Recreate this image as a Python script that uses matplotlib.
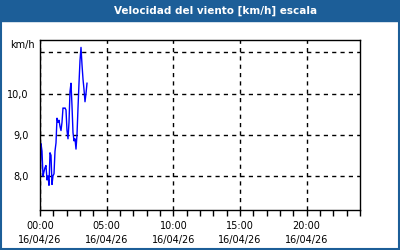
import matplotlib
matplotlib.use("Agg")
import matplotlib.pyplot as plt
from matplotlib.patches import Rectangle

# wind speed readings, km/h, every 4.5 minutes from 00:00
speed = [7.75, 8.78, 8.6, 7.99, 8.1, 8.2, 8.25, 7.9, 8.0, 7.77, 8.56, 8.5,
         7.79, 8.0, 8.05, 8.6, 8.8, 9.4, 9.3, 9.35, 9.2, 9.1, 9.3, 9.65,
         9.64, 9.65, 9.6, 9.1, 8.9, 9.3, 10.05, 10.25, 9.7, 9.05, 8.85, 8.9,
         8.65, 9.0, 9.65, 10.25, 10.8, 11.12, 10.7, 10.35, 10.1, 9.8, 10.0, 10.25]
step_h = 4.5 / 60
hours = [i * step_h for i in range(len(speed))]

xticks = [0, 5, 10, 15, 20]
xlabels = ["00:00\n16/04/26", "05:00\n16/04/26", "10:00\n16/04/26",
           "15:00\n16/04/26", "20:00\n16/04/26"]
yticks = [8, 9, 10]
ylabels = ["8,0", "9,0", "10,0"]

blue = "#1c5e98"
plt.rcParams["font.family"] = ["DejaVu Sans"]

fig = plt.figure(figsize=(4, 2.5), dpi=100)
fig.patch.set_facecolor("white")
# title bar and frame
fig.patches.append(Rectangle((0, 1 - 21 / 250), 1, 21 / 250, transform=fig.transFigure,
                             color=blue, zorder=0))
fig.patches.append(Rectangle((0.75 / 400, 0.75 / 250), 398.5 / 400, 248 / 250,
                             transform=fig.transFigure, fill=False, ec=blue, lw=1.5))
fig.text(216 / 400, 1 - 10.5 / 250, "Velocidad del viento [km/h] escala", color="white",
         fontsize=7.5, fontweight="bold", ha="center", va="center")

ax = fig.add_axes([40 / 400, 40 / 250, 320 / 400, 170 / 250])
ax.plot(hours, speed, color="#0000ff", lw=1)
ax.set_xlim(0, 24)
ax.set_ylim(7.17, 11.3)

ax.set_xticks(xticks)
ax.set_xticklabels(xlabels, fontsize=7, linespacing=1.5)
ax.set_xticks(range(0, 25), minor=True)
ax.set_yticks(yticks + [11])
ax.set_yticklabels(ylabels + [""], fontsize=7)
ax.tick_params(axis="y", length=0, pad=8)
ax.tick_params(axis="x", which="both", direction="out", length=4, width=1, pad=4)
ax.grid(True, color="black", ls=(0, (3, 3)), lw=1)
for s in ax.spines.values():
    s.set_linewidth(1)
ax.text(-0.015, 1 - 5 / 170, "km/h", transform=ax.transAxes, ha="right", va="center",
        fontsize=7)

fig.savefig("out.png", dpi=100)
